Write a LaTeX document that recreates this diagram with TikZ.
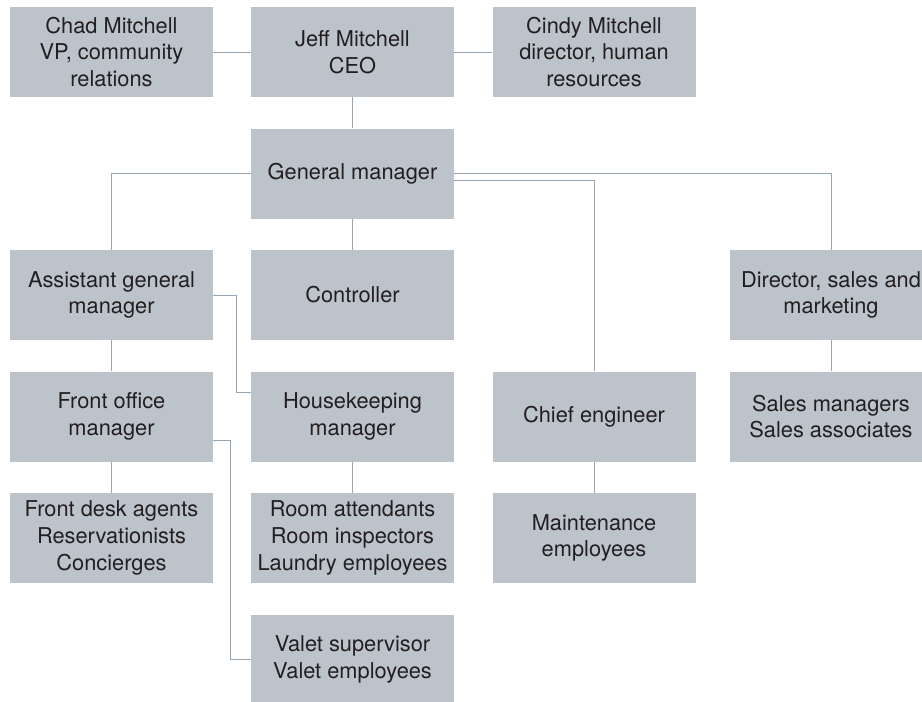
\documentclass[tikz,border=0pt]{standalone}
\usepackage{fontspec}
\setmainfont{TeX Gyre Heros}
\definecolor{boxgray}{RGB}{188,195,203}
\definecolor{linegray}{RGB}{150,165,180}
\definecolor{inkgray}{RGB}{35,31,32}
\begin{document}
\begin{tikzpicture}
            \tikzset{Box/.style={%
                shape=rectangle,%
                fill=boxgray,%
                text=inkgray,%
                minimum width=203pt,%
                minimum height=90pt,%
                inner sep=0pt,%
                align=center,%
                font=\fontsize{21.8}{26.7}\selectfont,%
                node distance=121.5pt,%
            },
            Link/.style={draw=linegray, line width=0.9pt}}

            \useasboundingbox (0,0) rectangle (922pt,-702pt);

            \node[Box] (chad) at (111.5pt,-52pt) {Chad Mitchell\\VP, community\\relations};
            \node[Box, node distance=241pt, right of=chad] (jeff) {Jeff Mitchell\\CEO};
            \node[Box, node distance=241.5pt, right of=jeff] (cindy) {Cindy Mitchell\\director, human\\resources};
            \node[Box, below of=jeff] (gm) {General manager};
            \node[Box, below of=gm] (ctrl) {Controller};
            \node[Box, node distance=241pt, left of=ctrl] (agm) {Assistant general\\manager};
            \node[Box, below of=ctrl] (hk) {Housekeeping\\manager};
            \node[Box, below of=agm] (fom) {Front office\\manager};
            \node[Box, node distance=241.5pt, right of=hk] (chief) {Chief engineer};
            \node[Box, node distance=237pt, right of=chief] (sales) {Sales managers\\Sales associates};
            \node[Box, above of=sales] (dir) {Director, sales and\\marketing};
            \node[Box, below of=fom] (desk) {Front desk agents\\Reservationists\\Concierges};
            \node[Box, below of=hk] (room) {Room attendants\\Room inspectors\\Laundry employees};
            \node[Box, below of=chief] (maint) {Maintenance\\employees};
            \node[Box, below of=room] (valet) {Valet supervisor\\Valet employees};

            \draw[Link] (chad) -- (jeff);
            \draw[Link] (jeff) -- (cindy);
            \draw[Link] (jeff) -- (gm);

            \draw[Link] (gm.west) -| (agm);
            \draw[Link] (gm) -- (ctrl);
            \draw[Link] (gm.east) -| (dir);
            \draw[Link] ([yshift=-7pt]gm.east) -| (chief);

            \draw[Link] (agm.east) -- ++(23pt,0) |- ([yshift=24pt]hk.west);
            \draw[Link] (agm) -- (fom);
            \draw[Link] (fom) -- (desk);
            \draw[Link] ([yshift=-23.5pt]fom.east) -- ++(17pt,0) |- (valet.west);

            \draw[Link] (hk) -- (room);
            \draw[Link] (chief) -- (maint);
            \draw[Link] (dir) -- (sales);
        \end{tikzpicture}
\end{document}
